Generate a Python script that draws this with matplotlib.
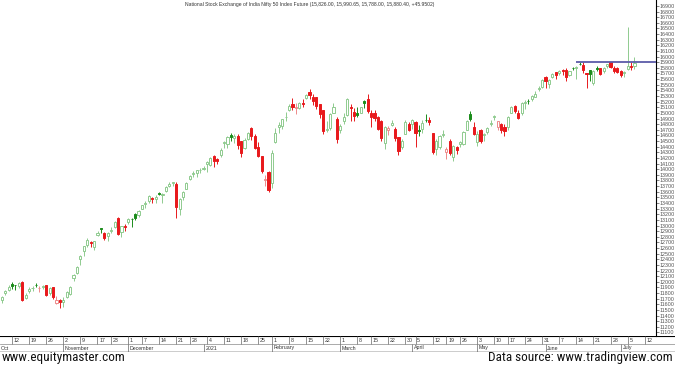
import numpy as np
import pandas as pd
import matplotlib
matplotlib.use("Agg")
import matplotlib.pyplot as plt
from matplotlib import font_manager

# ── Data: Nifty 50 futures, daily OHLC ────────────────────────────────────────
START, END = "2020-10-07", "2021-07-12"
HOLIDAYS = ["2020-11-16", "2020-11-30", "2020-12-25", "2021-01-26", "2021-03-11",
            "2021-03-29", "2021-04-02", "2021-04-14", "2021-04-21", "2021-05-13"]

opens = [
    11680, 11800, 11850, 11970, 11940, 11920, 12000, 11720, 11830, 11890,
    11950, 11890, 11910, 11940, 11800, 11900, 11630, 11680, 11650, 11730,
    11780, 12060, 12150, 12400, 12550, 12650, 12700, 12610, 12830, 12950,
    12860, 12810, 12900, 12970, 13130, 12880, 13000, 13060, 13120, 13200,
    13180, 13300, 13390, 13440, 13490, 13470, 13570, 13550, 13620, 13710,
    13760, 13740, 13300, 13500, 13650, 13820, 13910, 13940, 13980, 14000,
    14100, 14080, 14240, 14190, 14260, 14470, 14450, 14610, 14550, 14590,
    14500, 14370, 14540, 14730, 14590, 14400, 14240, 13810, 13950, 13760,
    14480, 14750, 14760, 14920, 15060, 15160, 15090, 15080, 15180, 15270,
    15370, 15290, 15280, 15150, 15050, 14700, 14730, 15000, 14890, 14700,
    14850, 14960, 15110, 15010, 15000, 15000, 15210, 15250, 15000, 14990,
    14920, 14860, 14470, 14700, 14780, 14710, 14570, 14400, 14630, 14810,
    14800, 14840, 14700, 14710, 14880, 14880, 14640, 14360, 14400, 14600,
    14300, 14500, 14220, 14400, 14450, 14450, 14700, 14980, 14750, 14480,
    14690, 14600, 14660, 14800, 14930, 14750, 14800, 14750, 14750, 15000,
    15130, 15000, 14990, 15180, 15220, 15240, 15290, 15420, 15460, 15630,
    15520, 15640, 15720, 15700, 15770, 15760, 15680, 15800, 15790, 15870,
    15850, 15700, 15760, 15530, 15790, 15790, 15740, 15840, 15900, 15800,
    15800, 15750, 15700, 15780, 15840, 15826,
]
highs = [
    11750, 11850, 11940, 11990, 11950, 11990, 12020, 11800, 11900, 11920,
    11980, 11930, 11950, 11940, 11900, 11900, 11740, 11700, 11725, 11830,
    11920, 12130, 12280, 12470, 12640, 12770, 12720, 12730, 12900, 12960,
    12890, 12880, 12970, 13080, 13150, 13000, 13030, 13130, 13130, 13220,
    13280, 13370, 13430, 13550, 13500, 13540, 13600, 13580, 13700, 13770,
    13770, 13780, 13490, 13620, 13770, 13900, 13970, 13990, 14020, 14050,
    14150, 14215, 14250, 14200, 14370, 14500, 14590, 14650, 14620, 14620,
    14500, 14560, 14660, 14753, 14620, 14490, 14240, 13900, 13970, 14340,
    14730, 14830, 14900, 15015, 15160, 15260, 15170, 15190, 15240, 15340,
    15431, 15330, 15280, 15160, 15060, 14850, 15000, 15180, 14920, 14800,
    15000, 15270, 15160, 15090, 15110, 15110, 15230, 15340, 15050, 15050,
    14950, 14880, 14760, 14760, 14880, 14750, 14570, 14530, 14880, 14840,
    14890, 14850, 14780, 14880, 14980, 14920, 14650, 14530, 14600, 14700,
    14400, 14530, 14430, 14420, 14500, 14670, 14880, 15040, 14830, 14670,
    14720, 14640, 14750, 14880, 14970, 14850, 14820, 14800, 14940, 15130,
    15140, 15050, 15190, 15230, 15240, 15310, 15380, 15470, 15600, 15660,
    15600, 15700, 15730, 15770, 15780, 15800, 15750, 15820, 15830, 15900,
    15900, 15700, 15760, 15760, 15840, 15800, 15820, 15870, 15910, 15830,
    15810, 15760, 15740, 16530, 15900, 15990,
]
lows = [
    11630, 11770, 11830, 11880, 11860, 11890, 11660, 11700, 11810, 11840,
    11900, 11820, 11870, 11750, 11770, 11700, 11600, 11535, 11557, 11720,
    11770, 12020, 12130, 12300, 12460, 12620, 12620, 12570, 12820, 12870,
    12740, 12730, 12870, 12960, 12830, 12800, 12900, 13030, 12980, 13100,
    13150, 13290, 13310, 13400, 13400, 13400, 13550, 13400, 13600, 13690,
    13700, 13130, 13190, 13450, 13640, 13810, 13860, 13860, 13930, 13990,
    13950, 14050, 14040, 14100, 14220, 14380, 14380, 14500, 14470, 14360,
    14220, 14350, 14510, 14517, 14350, 14220, 13930, 13710, 13600, 13660,
    14470, 14640, 14710, 14860, 15040, 15060, 14980, 15070, 15110, 15250,
    15240, 15140, 15070, 14910, 14630, 14660, 14700, 14990, 14470, 14640,
    14800, 14950, 14860, 14860, 14920, 14990, 15080, 15000, 14750, 14850,
    14700, 14500, 14350, 14600, 14760, 14500, 14260, 14350, 14620, 14680,
    14720, 14400, 14590, 14650, 14830, 14780, 14270, 14250, 14350, 14570,
    14190, 14250, 14150, 14270, 14400, 14430, 14690, 14860, 14600, 14420,
    14460, 14500, 14620, 14760, 14870, 14700, 14650, 14590, 14700, 14990,
    15000, 14900, 14970, 15070, 15150, 15220, 15290, 15380, 15450, 15450,
    15450, 15620, 15600, 15680, 15680, 15570, 15650, 15770, 15600, 15850,
    15700, 15450, 15560, 15500, 15750, 15670, 15700, 15790, 15800, 15700,
    15710, 15640, 15630, 15770, 15760, 15788,
]
closes = [
    11738, 11834, 11914, 11930, 11935, 11971, 11680, 11762, 11873, 11897,
    11937, 11896, 11930, 11768, 11889, 11730, 11670, 11642, 11669, 11813,
    11908, 12120, 12264, 12461, 12631, 12749, 12691, 12720, 12874, 12938,
    12771, 12859, 12926, 13055, 12858, 12987, 12968, 13109, 13114, 13133,
    13258, 13356, 13393, 13529, 13478, 13514, 13558, 13567, 13682, 13740,
    13761, 13328, 13466, 13601, 13749, 13873, 13932, 13982, 13982, 14018,
    14132, 14199, 14146, 14137, 14347, 14485, 14564, 14564, 14596, 14433,
    14281, 14521, 14644, 14590, 14372, 14238, 13967, 13818, 13635, 14281,
    14648, 14790, 14896, 14924, 15116, 15109, 15106, 15173, 15163, 15314,
    15313, 15209, 15119, 14982, 14676, 14708, 14982, 15097, 14529, 14762,
    14919, 15245, 15081, 14938, 14956, 15098, 15175, 15031, 14929, 14910,
    14721, 14557, 14744, 14736, 14815, 14549, 14324, 14507, 14845, 14691,
    14867, 14638, 14684, 14819, 14873, 14834, 14310, 14504, 14581, 14617,
    14359, 14296, 14406, 14341, 14485, 14653, 14864, 14895, 14631, 14634,
    14496, 14618, 14724, 14823, 14942, 14851, 14696, 14677, 14923, 15108,
    15030, 14906, 15175, 15197, 15208, 15301, 15337, 15436, 15583, 15575,
    15576, 15690, 15670, 15751, 15740, 15635, 15738, 15799, 15812, 15869,
    15768, 15691, 15695, 15746, 15773, 15687, 15790, 15860, 15815, 15748,
    15722, 15680, 15722, 15834, 15819, 15880,
]
RESIST = 15895               # horizontal line drawn on the chart
RESIST_FROM = "2021-06-14"   # where that line starts
Y_TICKS = list(range(11100, 17000, 100))

TITLE = ("National Stock Exchange of India Nifty 50 Index Future "
         "(15,826.00, 15,990.65, 15,788.00, 15,880.40, +45.9502)")
MONTH_NAMES = {11: "November", 12: "December", 1: "2021", 2: "February", 3: "March",
               4: "April", 5: "May", 6: "June", 7: "July"}

# ── Colours ───────────────────────────────────────────────────────────────────
UP_HOLLOW = "#8fcb8f"
UP_FILLED = "#1b8c1b"
DN_FILLED = "#e8191c"
DN_HOLLOW = "#ee8a8a"

# ── Trading calendar ──────────────────────────────────────────────────────────
days = pd.bdate_range(START, END)
days = days[~days.isin(pd.to_datetime(HOLIDAYS))]
x = np.arange(len(days))

PX_PER_DAY = 3.42
X0 = -1.74 / PX_PER_DAY            # x value at left edge of figure
W_FIG, H_FIG = 675, 367
PLOT_R, PLOT_B = 656, 336           # right edge / bottom of price panel (px)
X_RIGHT = X0 + PLOT_R / PX_PER_DAY

fig = plt.figure(figsize=(W_FIG / 100, H_FIG / 100), dpi=100)
ax = fig.add_axes([0, 1 - PLOT_B / H_FIG, PLOT_R / W_FIG, PLOT_B / H_FIG])

# ── Candles ───────────────────────────────────────────────────────────────────
prev = opens[0]
for i, (o, h, l, c) in enumerate(zip(opens, highs, lows, closes)):
    up_day = c >= prev
    hollow = c >= o
    if up_day:
        col = UP_HOLLOW if hollow else UP_FILLED
    else:
        col = DN_HOLLOW if hollow else DN_FILLED
    ax.vlines(x[i], l, h, color=col, lw=0.7, zorder=2)
    bot, ht = min(o, c), max(abs(c - o), 6)
    ax.bar(x[i], ht, bottom=bot, width=0.62,
           facecolor="white" if hollow else col, edgecolor=col,
           linewidth=0.7, zorder=3)
    prev = c

x_res = x[days.get_loc(pd.Timestamp(RESIST_FROM))]
ax.hlines(RESIST, x_res, X_RIGHT, color="#5c5ca8", lw=1.3, zorder=4)

ax.set_xlim(X0, X_RIGHT)
ax.set_ylim(17005 - 17.76 * PLOT_B, 17005)
ax.yaxis.tick_right()
ax.set_yticks(Y_TICKS)
ax.set_yticklabels([str(v) for v in Y_TICKS])
ax.tick_params(axis="y", labelsize=3.9, colors="#555555", length=2, width=0.5, pad=0.8)
ax.tick_params(axis="x", bottom=False, labelbottom=False)
for lab in ax.get_yticklabels():
    lab.set_family("Liberation Sans")
for s in ("top", "left", "bottom"):
    ax.spines[s].set_visible(False)
ax.spines["right"].set_linewidth(0.8)

fig.text(310 / W_FIG, 1 - 2 / H_FIG, TITLE, ha="center", va="top",
         fontsize=3.6, color="#333333", family="Liberation Sans")

# ── Date strip ────────────────────────────────────────────────────────────────
STRIP_T, STRIP_B = 336, 352
ax2 = fig.add_axes([0, 1 - STRIP_B / H_FIG, 1, (STRIP_B - STRIP_T) / H_FIG])
ax2.set_xlim(X0, X0 + W_FIG / PX_PER_DAY)
ax2.set_ylim(0, 2)
ax2.axis("off")
ax2.axhline(2, color="black", lw=0.8)
ax2.axhline(1, color="#888888", lw=0.5)
ax2.axhline(0, color="black", lw=1.0)

wk = pd.Series(x, index=days)
iso = days.isocalendar()
week_first = wk.groupby([iso.year.values, iso.week.values]).first()
for xi in week_first.values[1:]:
    ax2.vlines(xi, 1, 2, color="#666666", lw=0.5)
    ax2.text(xi + 0.5, 1.5, str(days[xi].day), fontsize=3.8, va="center",
             ha="left", color="#333333", family="Liberation Sans")

month_first = wk.groupby([days.year, days.month]).first()
ax2.text(X0 + 0.3, 0.5, "Oct", fontsize=3.8, va="center", ha="left",
         color="#333333", family="Liberation Sans")
for xi in month_first.values[1:]:
    ax2.vlines(xi, 0, 1, color="#666666", lw=0.5)
    ax2.text(xi + 0.5, 0.5, MONTH_NAMES[days[xi].month], fontsize=3.8, va="center",
             ha="left", color="#333333", family="Liberation Sans")

# ── Footer (narrow font if one is installed) ──────────────────────────────────
installed = {f.name for f in font_manager.fontManager.ttflist}
narrow = [n for n in ("Liberation Sans Narrow", "Roboto Condensed", "Open Sans Condensed")
          if n in installed]
if narrow:
    foot_kw = dict(family=[narrow[0], "DejaVu Sans"], fontsize=9.5)
else:
    foot_kw = dict(family=["Roboto", "DejaVu Sans"], fontsize=8.6)
fig.text(2 / W_FIG, 3 / H_FIG, "www.equitymaster.com", ha="left", va="bottom",
         color="#111111", **foot_kw)
fig.text(673 / W_FIG, 3 / H_FIG, "Data source: www.tradingview.com", ha="right",
         va="bottom", color="#111111", **foot_kw)

fig.savefig("out.png", dpi=100)
